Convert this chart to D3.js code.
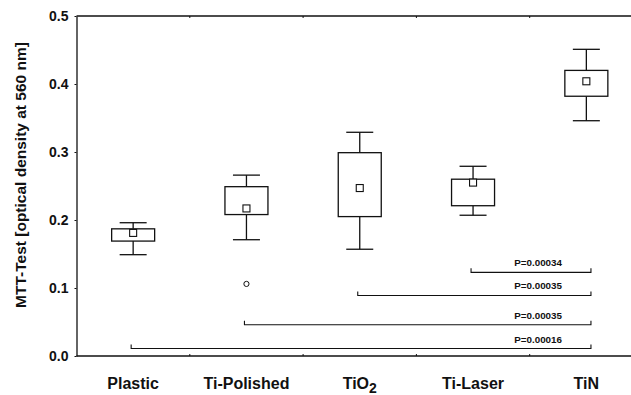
<!DOCTYPE html>
<html>
<head>
<meta charset="utf-8">
<script src="https://cdn.jsdelivr.net/npm/d3@7"></script>
<style>
  body { margin: 0; background: #fff; }
  svg { display: block; }
  text { font-family: "Liberation Sans", Arial, sans-serif; font-weight: bold; fill: #111; }
</style>
</head>
<body>
<svg width="631" height="395"></svg>
<script>
// box plot values
const categories = ["Plastic", "Ti-Polished", "TiO2", "Ti-Laser", "TiN"];
const whiskerLow = [0.149, 0.171, 0.157, 0.207, 0.346];
const boxLow = [0.169, 0.208, 0.205, 0.221, 0.382];
const means = [0.181, 0.217, 0.247, 0.255, 0.404];
const boxHigh = [0.187, 0.249, 0.299, 0.260, 0.420];
const whiskerHigh = [0.196, 0.266, 0.329, 0.279, 0.451];
const outlierCat = ["Ti-Polished"];
const outlierVal = [0.106];

// significance brackets (all against TiN)
const bracketFrom = ["Ti-Laser", "TiO2", "Ti-Polished", "Plastic"];
const bracketLevel = [0.123, 0.089, 0.046, 0.011];
const pLabels = ["P=0.00034", "P=0.00035", "P=0.00035", "P=0.00016"];

const yTicks = [0, 0.1, 0.2, 0.3, 0.4, 0.5];

const svg = d3.select("svg");
const plotLeft = 76.5, plotTop = 16, plotBottom = 356;

const x = d3.scaleBand().domain(categories).range([plotLeft, 643]).padding(0);
const y = d3.scaleLinear().domain([0, 0.5]).range([plotBottom, plotTop]);
const cx = c => x(c) + x.bandwidth() / 2;

const ink = "#111";
const boxW = 43, capW = 27;

// frame: left axis, top and bottom rules
const yAxis = svg.append("g")
  .attr("transform", `translate(${plotLeft},0)`)
  .call(d3.axisLeft(y).tickValues(yTicks).tickFormat(d3.format(".1f")).tickSize(2).tickSizeOuter(0).tickPadding(6));
yAxis.select(".domain").attr("stroke", ink).attr("stroke-width", 1.3);
yAxis.selectAll(".tick line").attr("stroke", ink);
yAxis.selectAll(".tick text").attr("font-size", 14).attr("font-family", null).attr("fill", ink);

svg.append("line").attr("x1", plotLeft).attr("x2", 631).attr("y1", plotBottom).attr("y2", plotBottom)
  .attr("stroke", ink).attr("stroke-width", 1.3);
svg.append("line").attr("x1", plotLeft).attr("x2", 631).attr("y1", plotTop).attr("y2", plotTop)
  .attr("stroke", ink).attr("stroke-width", 1.3);

// small ticks at category boundaries
const bounds = categories.slice(1).map(c => x(c));
svg.selectAll(".btick").data(bounds).enter().append("line")
  .attr("x1", d => d).attr("x2", d => d)
  .attr("y1", plotBottom - 2).attr("y2", plotBottom)
  .attr("stroke", ink);
svg.selectAll(".ttick").data(bounds).enter().append("line")
  .attr("x1", d => d).attr("x2", d => d)
  .attr("y1", plotTop).attr("y2", plotTop + 2)
  .attr("stroke", ink);

// category labels
const labels = svg.selectAll(".cat").data(categories).enter().append("text")
  .attr("x", d => cx(d))
  .attr("y", 389)
  .attr("text-anchor", "middle")
  .attr("font-size", 16);
labels.each(function(d) {
  const t = d3.select(this);
  if (d === "TiO2") {
    t.append("tspan").text("TiO");
    t.append("tspan").attr("dy", 4).attr("font-size", 14).text("2");
  } else {
    t.text(d);
  }
});

// y axis title
svg.append("text")
  .attr("transform", "translate(26,175) rotate(-90)")
  .attr("text-anchor", "middle")
  .attr("font-size", 15.5)
  .text("MTT-Test [optical density at 560 nm]");

// boxes
const g = svg.append("g").attr("stroke", ink).attr("stroke-width", 1.3).attr("fill", "none");
categories.forEach((c, i) => {
  const xc = cx(c);
  g.append("line").attr("x1", xc).attr("x2", xc).attr("y1", y(whiskerHigh[i])).attr("y2", y(boxHigh[i]));
  g.append("line").attr("x1", xc).attr("x2", xc).attr("y1", y(boxLow[i])).attr("y2", y(whiskerLow[i]));
  g.append("line").attr("x1", xc - capW / 2).attr("x2", xc + capW / 2).attr("y1", y(whiskerHigh[i])).attr("y2", y(whiskerHigh[i]));
  g.append("line").attr("x1", xc - capW / 2).attr("x2", xc + capW / 2).attr("y1", y(whiskerLow[i])).attr("y2", y(whiskerLow[i]));
  g.append("rect").attr("x", xc - boxW / 2).attr("width", boxW)
    .attr("y", y(boxHigh[i])).attr("height", y(boxLow[i]) - y(boxHigh[i]))
    .attr("fill", "#fff");
  g.append("rect").attr("x", xc - 3.5).attr("width", 7)
    .attr("y", y(means[i]) - 3.5).attr("height", 7).attr("fill", "#fff").attr("stroke-width", 1.1);
});

// outliers
g.selectAll(".out").data(outlierVal).enter().append("circle")
  .attr("cx", (d, i) => cx(outlierCat[i]))
  .attr("cy", d => y(d))
  .attr("r", 2.6).attr("stroke-width", 1);

// significance brackets
const xEnd = cx("TiN") + 4.6;
bracketFrom.forEach((c, i) => {
  const yl = y(bracketLevel[i]);
  const xs = cx(c) - 2;
  g.append("path").attr("d", `M${xs},${yl - 4}V${yl}H${xEnd}V${yl - 4}`).attr("stroke-width", 1.1);
  svg.append("text")
    .attr("x", xEnd - 29).attr("y", yl - 6)
    .attr("text-anchor", "end")
    .attr("font-size", 9.8)
    .text(pLabels[i]);
});
</script>
</body>
</html>
